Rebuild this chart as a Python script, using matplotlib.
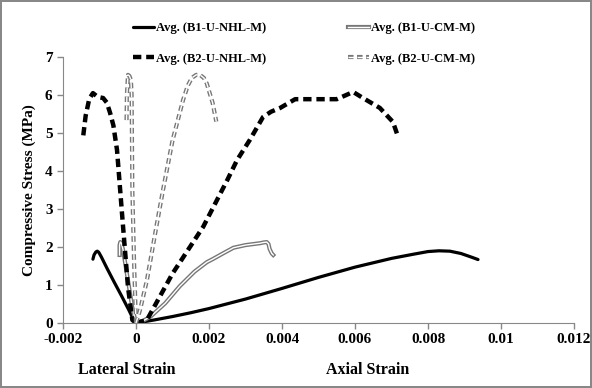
import matplotlib.pyplot as plt
from matplotlib.legend_handler import HandlerTuple

plt.rcParams['font.family'] = ['Liberation Serif', 'DejaVu Serif']
plt.rcParams['font.weight'] = 'bold'
plt.rcParams['lines.scale_dashes'] = False

# B1-U-NHL-M (solid black)
b1_nhl_lat_x = [0, -0.00005, -0.0002, -0.0004, -0.0006, -0.0008, -0.00095, -0.00102, -0.00106, -0.0011, -0.00115, -0.00118]
b1_nhl_lat_y = [0, 0.05, 0.35, 0.72, 1.08, 1.45, 1.74, 1.86, 1.89, 1.87, 1.79, 1.68]
b1_nhl_ax_x = [0, 0.0002, 0.0005, 0.001, 0.0015, 0.002, 0.003, 0.004, 0.005, 0.006, 0.007, 0.0076, 0.008, 0.0083, 0.0086, 0.0089, 0.0092, 0.00937]
b1_nhl_ax_y = [0, 0.03, 0.08, 0.17, 0.27, 0.38, 0.63, 0.91, 1.2, 1.47, 1.7, 1.81, 1.88, 1.9, 1.89, 1.83, 1.73, 1.67]

# B1-U-CM-M (grey double line)
b1_cm_lat_x = [0, -0.0001, -0.0002, -0.0003, -0.00036, -0.0004, -0.00043, -0.00045, -0.00045]
b1_cm_lat_y = [0, 0.4, 1.0, 1.6, 1.95, 2.1, 2.13, 2.05, 1.79]
b1_cm_ax_x = [0, 0.0002, 0.0004, 0.0008, 0.0012, 0.0016, 0.00194, 0.0021, 0.0024, 0.00267, 0.003, 0.0034, 0.0035, 0.00358, 0.00363, 0.00366, 0.00372, 0.00376]
b1_cm_ax_y = [0, 0.06, 0.17, 0.52, 0.97, 1.35, 1.6, 1.68, 1.84, 1.98, 2.05, 2.1, 2.12, 2.13, 2.08, 1.95, 1.83, 1.79]

# B2-U-NHL-M (thick dashed black)
b2_nhl_lat_x = [0, -0.0001, -0.00022, -0.00036, -0.00052, -0.00062, -0.00071, -0.0008, -0.0009, -0.00105, -0.00118, -0.00128, -0.00138, -0.00145]
b2_nhl_lat_y = [0, 0.08, 0.95, 2.6, 4.55, 5.2, 5.53, 5.8, 5.92, 5.95, 6.05, 5.9, 5.45, 4.89]
b2_nhl_ax_x = [0, 0.0003, 0.001, 0.00184, 0.0025, 0.00277, 0.00312, 0.00348, 0.0037, 0.00395, 0.00436, 0.0055, 0.00595, 0.00622, 0.00668, 0.00704, 0.00718]
b2_nhl_ax_y = [0, 0.08, 1.3, 2.53, 3.76, 4.29, 4.82, 5.42, 5.56, 5.66, 5.89, 5.89, 6.08, 5.92, 5.66, 5.29, 4.9]

# B2-U-CM-M (grey dashed double line)
b2_cm_lat_x = [0, -0.00005, -0.0001, -0.00012, -0.00014, -0.00018, -0.00022, -0.00025, -0.00026]
b2_cm_lat_y = [0, 1.5, 3.5, 6.0, 6.4, 6.5, 6.53, 6.0, 5.26]
b2_cm_ax_x = [0, 0.00011, 0.0003, 0.00057, 0.00074, 0.001, 0.00129, 0.00142, 0.00153, 0.00165, 0.00175, 0.00186, 0.00194, 0.0021, 0.0022]
b2_cm_ax_y = [0, 0.34, 1.13, 2.6, 3.5, 4.8, 5.87, 6.25, 6.45, 6.53, 6.53, 6.45, 6.3, 5.79, 5.3]

fig = plt.figure(figsize=(5.92, 3.88), dpi=100, linewidth=1.5, edgecolor='#888888')
ax = fig.add_axes([63 / 592, 1 - 323 / 388, 511 / 592, 266 / 388])

h1, = ax.plot(b1_nhl_lat_x, b1_nhl_lat_y, color='black', lw=2.3, solid_capstyle='round', solid_joinstyle='round')
ax.plot(b1_nhl_ax_x, b1_nhl_ax_y, color='black', lw=2.3, solid_capstyle='round', solid_joinstyle='round')

g1, = ax.plot(b1_cm_lat_x, b1_cm_lat_y, color='#777777', lw=3)
w1, = ax.plot(b1_cm_lat_x, b1_cm_lat_y, color='white', lw=1)
ax.plot(b1_cm_ax_x, b1_cm_ax_y, color='#777777', lw=3)
ax.plot(b1_cm_ax_x, b1_cm_ax_y, color='white', lw=1)

h3, = ax.plot(b2_nhl_lat_x, b2_nhl_lat_y, color='black', lw=3.2, dashes=(6, 3.5))
ax.plot(b2_nhl_ax_x, b2_nhl_ax_y, color='black', lw=3.2, dashes=(6, 3.5))

g2, = ax.plot(b2_cm_lat_x, b2_cm_lat_y, color='#777777', lw=3, dashes=(4, 2.5))
w2, = ax.plot(b2_cm_lat_x, b2_cm_lat_y, color='white', lw=1, dashes=(4, 2.5))
ax.plot(b2_cm_ax_x, b2_cm_ax_y, color='#777777', lw=3, dashes=(4, 2.5))
ax.plot(b2_cm_ax_x, b2_cm_ax_y, color='white', lw=1, dashes=(4, 2.5))

ax.set_xlim(-0.002, 0.012)
ax.set_ylim(0, 7)
ax.set_xticks([-0.002, 0, 0.002, 0.004, 0.006, 0.008, 0.01, 0.012])
ax.set_xticklabels(['-0.002', '0', '0.002', '0.004', '0.006', '0.008', '0.01', '0.012'])
ax.set_yticks(range(8))
for s in ['top', 'right']:
    ax.spines[s].set_visible(False)
for s in ['left', 'bottom']:
    ax.spines[s].set_color('#888888')
ax.tick_params(colors='#888888', labelcolor='black', labelsize=11, length=4, width=1)
ax.set_ylabel('Compressive Stress (MPa)', fontsize=11, fontweight='bold', labelpad=6)

fig.text(127 / 592, 1 - 370 / 388, 'Lateral Strain', ha='center', va='center', fontsize=11.5, fontweight='bold')
fig.text(368 / 592, 1 - 370 / 388, 'Axial Strain', ha='center', va='center', fontsize=11.5, fontweight='bold')

fig.legend([h1, h3, (g1, w1), (g2, w2)],
           ['Avg. (B1-U-NHL-M)', 'Avg. (B2-U-NHL-M)', 'Avg. (B1-U-CM-M)', 'Avg. (B2-U-CM-M)'],
           handler_map={tuple: HandlerTuple(ndivide=1)},
           ncol=2, loc='upper left', bbox_to_anchor=(133 / 592, 1 - 22 / 388),
           frameon=False, fontsize=9, handlelength=1.7, handletextpad=0.15,
           columnspacing=6.5, labelspacing=1.5, borderaxespad=0, borderpad=0)

fig.savefig('out.png', dpi=100)
